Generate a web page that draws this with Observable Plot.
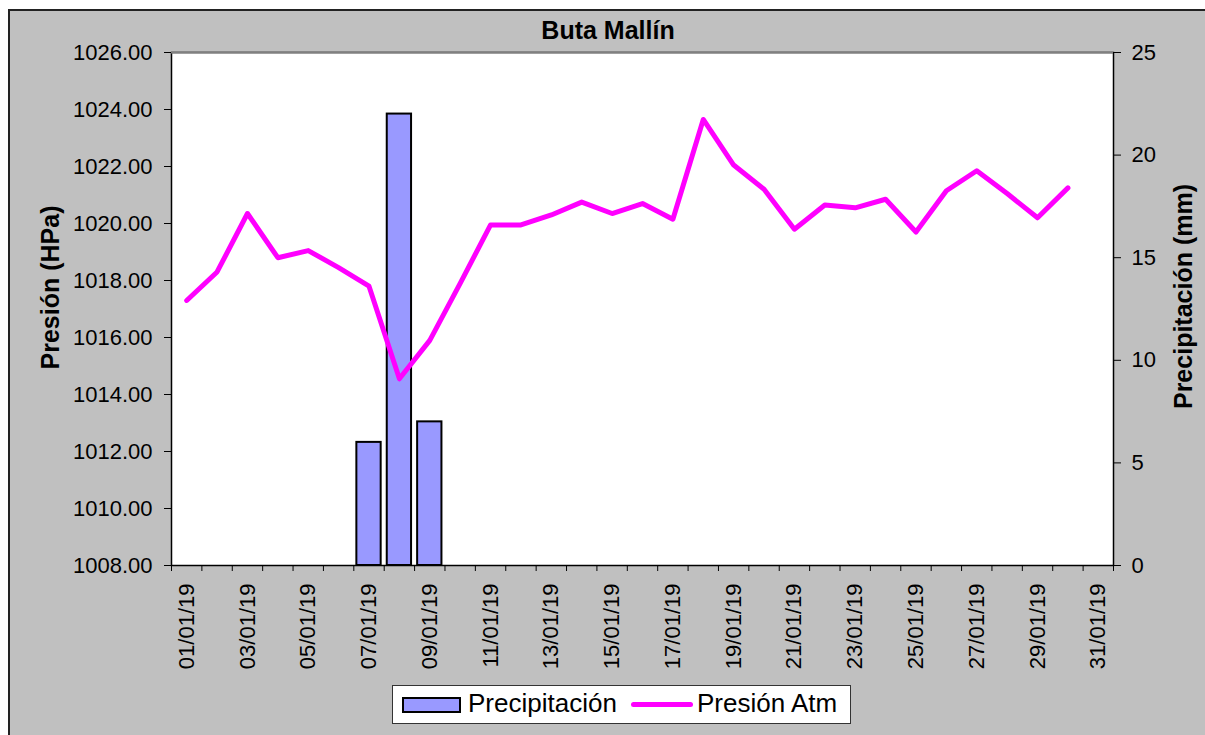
<!DOCTYPE html>
<html>
<head>
<meta charset="utf-8">
<script src="https://cdn.jsdelivr.net/npm/d3@7"></script>
<script src="https://cdn.jsdelivr.net/npm/@observablehq/plot@0.6"></script>
<style>
  html, body { margin: 0; padding: 0; background: #ffffff; }
  body { width: 1205px; height: 735px; position: relative; overflow: hidden;
         font-family: "Liberation Sans", Arial, sans-serif; }
  #bg { position: absolute; left: 8px; top: 9px; width: 1200px; height: 730px;
        background: #C0C0C0; border-top: 2px solid #222; border-left: 2px solid #222; }
  #chart { position: absolute; left: 0; top: 0; }
  .title { position: absolute; left: 0; width: 1216px; top: 16px; text-align: center;
           font-weight: bold; font-size: 25px; color: #000; }
  .ytitle { position: absolute; font-weight: bold; font-size: 25px; color: #000;
            white-space: nowrap; transform-origin: center center; }
  #legend { position: absolute; left: 392px; top: 685px; width: 457px; height: 37px;
            background: #fff; border: 1px solid #333; }
  #legend .sw-bar { position: absolute; left: 9px; top: 11px; width: 55px; height: 12px;
                    background: #9999FF; border: 2px solid #000; }
  #legend .sw-line { position: absolute; left: 238px; top: 16px; width: 62px; height: 5px;
                     background: #FF00FF; border-radius: 3px; }
  #legend .lt { position: absolute; top: 2px; font-size: 26px; color: #000; white-space: nowrap; }
</style>
</head>
<body>
<div id="bg"></div>
<div id="chart"></div>
<div class="title">Buta Mallín</div>
<div class="ytitle" id="ytl">Presión (HPa)</div>
<div class="ytitle" id="ytr">Precipitación (mm)</div>
<div id="legend">
  <div class="sw-bar"></div><div class="lt" style="left:75px">Precipitación</div>
  <div class="sw-line"></div><div class="lt" style="left:304px">Presión Atm</div>
</div>
<script>
// ---- data ----
const dates = ["01/01/19","02/01/19","03/01/19","04/01/19","05/01/19","06/01/19","07/01/19","08/01/19",
  "09/01/19","10/01/19","11/01/19","12/01/19","13/01/19","14/01/19","15/01/19","16/01/19","17/01/19",
  "18/01/19","19/01/19","20/01/19","21/01/19","22/01/19","23/01/19","24/01/19","25/01/19","26/01/19",
  "27/01/19","28/01/19","29/01/19","30/01/19","31/01/19"];
const pressure = [1017.3, 1018.3, 1020.35, 1018.8, 1019.05, 1018.45, 1017.8, 1014.55, 1015.9, 1017.9,
  1019.95, 1019.95, 1020.3, 1020.75, 1020.35, 1020.7, 1020.15, 1023.65, 1022.05, 1021.2,
  1019.8, 1020.65, 1020.55, 1020.85, 1019.7, 1021.15, 1021.85, 1021.05, 1020.2, 1021.25, null];
const precip = [0,0,0,0,0,0,6,22,7,0,0,0,0,0,0,0,0,0,0,0,0,0,0,0,0,0,0,0,0,0,0];
const leftTicks = [1008,1010,1012,1014,1016,1018,1020,1022,1024,1026];
const rightTicks = [0,5,10,15,20,25];
const xLabels = dates.filter((d, i) => i % 2 === 0);

// ---- scales (dual axis: precipitation mapped onto pressure domain) ----
const pMin = 1008, pMax = 1026, rMax = 25;
const toP = v => pMin + v * (pMax - pMin) / rMax;
const fromP = p => (p - pMin) * rMax / (pMax - pMin);

const rows = dates.map((d, i) => ({date: d, pres: pressure[i], rain: precip[i]}));

const W = 1205, H = 735;
const mL = 171, mR = 92, mT = 52, mB = 170;
const step = (W - mL - mR) / dates.length;

const chart = Plot.plot({
  width: W, height: H,
  marginLeft: mL, marginRight: mR, marginTop: mT, marginBottom: mB,
  style: {background: "transparent", fontFamily: "'Liberation Sans', Arial, sans-serif", fontSize: "22px", color: "#000", overflow: "visible"},
  x: {type: "band", domain: dates, paddingInner: 0.2, paddingOuter: 0.1, round: false},
  y: {domain: [pMin, pMax]},
  marks: [
    Plot.frame({fill: "white", stroke: "none"}),
    Plot.barY(rows.filter(r => r.rain > 0), {x: "date", y1: pMin, y2: r => toP(r.rain), fill: "#9999FF", stroke: "#000", strokeWidth: 2}),
    Plot.line(rows, {x: "date", y: "pres", stroke: "#FF00FF", strokeWidth: 5, strokeLinejoin: "round", strokeLinecap: "round"}),
    Plot.frame({stroke: "#000", strokeWidth: 1.5}),
    Plot.ruleY([pMax], {stroke: "#808080", strokeWidth: 2}),
    Plot.axisY({anchor: "left", ticks: leftTicks, tickFormat: d => d.toFixed(2), tickSize: 7, tickPadding: 12, fontSize: 22, label: null, stroke: "#000"}),
    Plot.axisY({anchor: "right", ticks: rightTicks.map(toP), tickFormat: d => String(Math.round(fromP(d))), tickSize: 7, tickPadding: 11, fontSize: 22, label: null, stroke: "#000"}),
    Plot.axisX({ticks: dates, tickSize: 6, tickFormat: () => "", dx: -step / 2, label: null, stroke: "#000"}),
    Plot.axisX({ticks: [dates[dates.length - 1]], tickSize: 6, tickFormat: () => "", dx: step / 2, label: null, stroke: "#000"}),
    Plot.axisX({ticks: xLabels, tickSize: 0, tickPadding: 18, tickRotate: -90, fontSize: 22, label: null})
  ]
});
document.getElementById("chart").appendChild(chart);

// axis titles (rotated)
function placeTitle(id, cx, cy) {
  const el = document.getElementById(id);
  const w = el.offsetWidth, h = el.offsetHeight;
  el.style.left = (cx - w / 2) + "px";
  el.style.top = (cy - h / 2) + "px";
  el.style.transform = "rotate(-90deg)";
}
placeTitle("ytl", 51, 287);
placeTitle("ytr", 1183, 296);
</script>
</body>
</html>
